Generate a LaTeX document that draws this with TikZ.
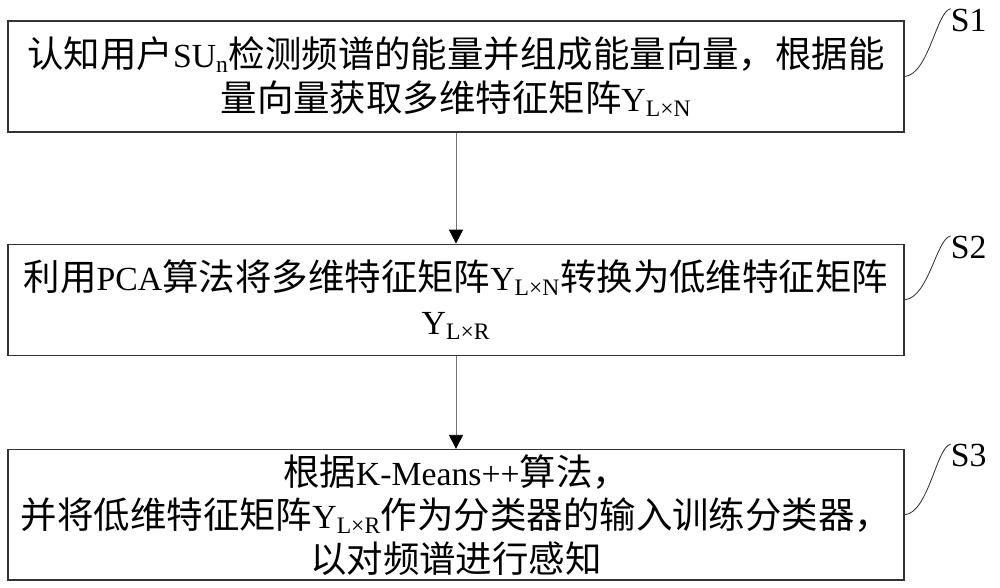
\documentclass[tikz,border=0pt]{standalone}
\usepackage{fontspec}
\setmainfont{Liberation Serif}
\newfontfamily\cjk[Scale=1.08]{Noto Sans CJK SC}
\usetikzlibrary{positioning,arrows.meta}
\newcommand{\en}[1]{{\rmfamily #1}}

\begin{document}
\begin{tikzpicture}[
        stepbox/.style={draw=black!80, line width=0.9pt, minimum width=22.4cm, text width=22.4cm, inner xsep=0pt, align=center, font=\cjk\fontsize{24}{31}\selectfont},
        flow/.style={draw=black!55, line width=0.6pt, -{Triangle[width=0.35cm,length=0.35cm,color=black]}},
        lead/.style={draw=black!80, line width=0.6pt},
        steplabel/.style={inner sep=0pt, font=\fontsize{24}{28}\selectfont}
    ]
        \useasboundingbox (0,0) rectangle (25,14.7);
        % boxes
        \node[stepbox, minimum height=2.775cm] (s1) at (11.4,12.7875) {认知用户\en{SU\textsubscript{n}}检测频谱的能量并组成能量向量，根据能\\量向量获取多维特征矩阵\en{Y\textsubscript{L×N}}};
        \node[stepbox, minimum height=2.775cm, below=2.775cm of s1] (s2) {利用\en{PCA}算法将多维特征矩阵\en{Y\textsubscript{L×N}}转换为低维特征矩阵\\\en{Y\textsubscript{L×R}}};
        \node[stepbox, minimum height=3.25cm, below=2.325cm of s2] (s3) {根据\en{K-Means++}算法，\\并将低维特征矩阵\en{Y\textsubscript{L×R}}作为分类器的输入训练分类器，\\以对频谱进行感知};
        
        % arrows
        \draw[flow] (s1.south) -- (s2.north);
        \draw[flow] (s2.south) -- (s3.north);
        
        % step labels
        \node[steplabel, right=1.15cm of s1.north east] (l1) {S1};
        \node[steplabel, right=1.15cm of s2.north east, yshift=-0.1cm] (l2) {S2};
        \node[steplabel, right=1.15cm of s3.north east, yshift=-0.175cm] (l3) {S3};
        \draw[lead] (s1.east) .. controls +(0.6,0.05) and +(-0.35,-0.05) .. (l1.north west);
        \draw[lead] (s2.east) .. controls +(0.6,0.05) and +(-0.35,-0.05) .. (l2.north west);
        \draw[lead] (s3.east) .. controls +(0.6,0.05) and +(-0.35,-0.05) .. (l3.north west);
    \end{tikzpicture}
\end{document}
